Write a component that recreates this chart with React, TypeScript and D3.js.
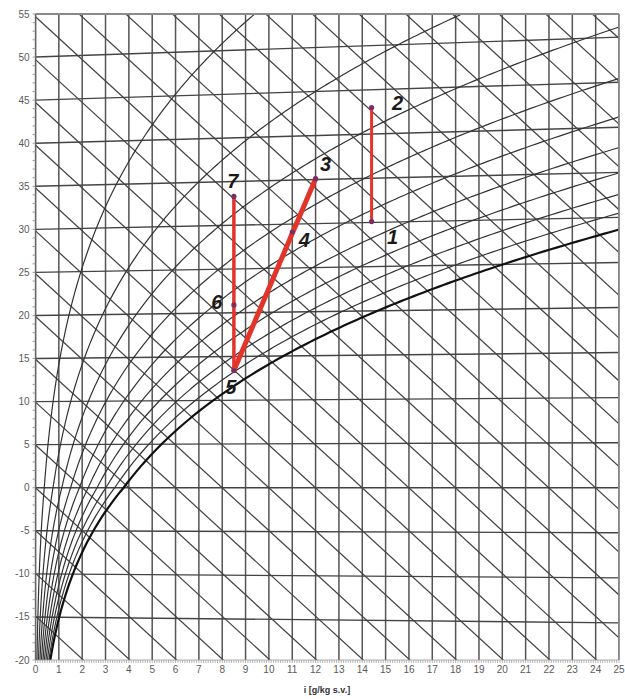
import React from "react";
import * as d3 from "d3";

// Mollier (h-x) diagram for moist air at 101.325 kPa
const WIDTH = 625;
const HEIGHT = 699;

// axis ticks
const xTickValues = [0, 1, 2, 3, 4, 5, 6, 7, 8, 9, 10, 11, 12, 13, 14, 15, 16, 17, 18, 19, 20, 21, 22, 23, 24, 25];
const tTickValues = [-20, -15, -10, -5, 0, 5, 10, 15, 20, 25, 30, 35, 40, 45, 50, 55];

// chart families
const isotherms = [-15, -10, -5, 0, 5, 10, 15, 20, 25, 30, 35, 40, 45, 50];
const relHumidity = [10, 20, 30, 40, 50, 60, 70, 80, 90, 100];
const enthalpies = [
  -20, -15, -10, -5, 0, 5, 10, 15, 20, 25, 30, 35, 40, 45, 50, 55, 60, 65, 70, 75, 80,
  85, 90, 95, 100, 105, 110, 115, 120,
];

// process states: humidity ratio (g/kg) and temperature (°C)
const pointLabels = ["1", "2", "3", "4", "5", "6", "7"];
const pointX = [14.4, 14.4, 12.0, 11.0, 8.5, 8.5, 8.5];
const pointT = [30.1, 43.0, 35.1, 29.1, 13.4, 20.9, 33.3];

// process segments (from -> to)
const segFrom = ["1", "7", "5"];
const segTo = ["2", "5", "3"];

const P_ATM = 101325;

function satPressure(t: number): number {
  return t >= 0
    ? 611.2 * Math.exp((17.62 * t) / (243.12 + t))
    : 611.2 * Math.exp((22.46 * t) / (272.62 + t));
}

function humidityRatio(t: number, phi: number): number {
  const pv = phi * satPressure(t);
  return (622 * pv) / (P_ATM - pv);
}

// vertical chart coordinate of a state (oblique Mollier frame)
function chartY(t: number, x: number): number {
  return t * (1 + (0.00186 * x) / 1.006);
}

function enthalpyY(h: number, x: number): number {
  return (h - 2.501 * x) / 1.006;
}

export default function App() {
  const left = 35.5;
  const right = 619;
  const top = 14;
  const bottom = 660;

  const xScale = d3.scaleLinear().domain([0, 25]).range([left, right]);
  const yScale = d3.scaleLinear().domain([-20, 55]).range([bottom, top]);

  const line = d3
    .line<[number, number]>()
    .x((d) => xScale(d[0]))
    .y((d) => yScale(d[1]));

  const tSamples = d3.range(-25, 72, 0.2);

  const rhPaths = relHumidity.map((rh) => {
    const pts: [number, number][] = [];
    for (const t of tSamples) {
      const x = humidityRatio(t, rh / 100);
      const y = chartY(t, x);
      if (x > 32 || y > 62) break;
      pts.push([x, y]);
    }
    return { rh, d: line(pts) || "" };
  });

  const isoPaths = isotherms.map((t) => {
    const pts: [number, number][] = [0, 25].map((x) => [x, chartY(t, x)]);
    return { t, d: line(pts) || "" };
  });

  const hPaths = enthalpies.map((h) => {
    const pts: [number, number][] = [0, 25].map((x) => [x, enthalpyY(h, x)]);
    return { h, d: line(pts) || "" };
  });

  const pos = (label: string) => {
    const i = pointLabels.indexOf(label);
    return [xScale(pointX[i]), yScale(chartY(pointT[i], pointX[i]))];
  };

  const labelOffset: Record<string, [number, number]> = {
    "1": [21, 15],
    "2": [26, -4],
    "3": [10, -15],
    "4": [12, 8],
    "5": [-3, 16],
    "6": [-17, -3],
    "7": [-1, -15],
  };
  const segWidth = [3, 3.5, 5];

  const minorX = d3.range(0, 25.001, 0.1);
  const minorY = d3.range(-20, 55.001, 1);

  const gridColor = "#444";
  const font = "'Liberation Sans', Arial, sans-serif";

  return (
    <svg
      width={WIDTH}
      height={HEIGHT}
      style={{ position: "absolute", left: 0, top: 0, background: "#fff" }}
      fontFamily={font}
    >
      <defs>
        <clipPath id="plot-clip">
          <rect x={left} y={top} width={right - left} height={bottom - top} />
        </clipPath>
      </defs>
      <rect x={0} y={0} width={WIDTH} height={HEIGHT} fill="#fff" />

      <g clipPath="url(#plot-clip)" fill="none">
        {xTickValues.map((v) => (
          <line
            key={"v" + v}
            x1={xScale(v)}
            x2={xScale(v)}
            y1={top}
            y2={bottom}
            stroke="#555"
            strokeWidth={1.5}
          />
        ))}
        {isoPaths.map((p) => (
          <path key={"t" + p.t} d={p.d} stroke={gridColor} strokeWidth={1.4} />
        ))}
        {hPaths.map((p) => (
          <path key={"h" + p.h} d={p.d} stroke={gridColor} strokeWidth={1.25} />
        ))}
        {rhPaths.map((p) => (
          <path
            key={"rh" + p.rh}
            d={p.d}
            stroke={p.rh === 100 ? "#111" : "#333"}
            strokeWidth={p.rh === 100 ? 2.2 : 1.2}
          />
        ))}
      </g>

      {/* frame */}
      <line x1={left} x2={right} y1={top} y2={top} stroke="#8a8a8a" strokeWidth={1.8} />
      <line x1={right} x2={right} y1={top} y2={bottom} stroke="#8a8a8a" strokeWidth={1.8} />
      <line x1={left} x2={left} y1={top} y2={bottom} stroke="#666" strokeWidth={1.4} />
      <line x1={left} x2={right} y1={bottom} y2={bottom} stroke="#999" strokeWidth={0.8} />

      {/* minor ticks */}
      {minorY.map((v) => (
        <line
          key={"my" + v}
          x1={left - 3}
          x2={left}
          y1={yScale(v)}
          y2={yScale(v)}
          stroke="#888"
          strokeWidth={0.8}
        />
      ))}
      {minorX.map((v, i) => (
        <line
          key={"mx" + i}
          x1={xScale(v)}
          x2={xScale(v)}
          y1={bottom}
          y2={bottom + 3}
          stroke="#999"
          strokeWidth={0.7}
        />
      ))}

      {/* tick labels */}
      {tTickValues.map((v) => (
        <text
          key={"yl" + v}
          x={left - 6}
          y={yScale(v)}
          dy="0.35em"
          textAnchor="end"
          fontSize={10}
          fill="#5a5a5a"
        >
          {v}
        </text>
      ))}
      {xTickValues.map((v) => (
        <text
          key={"xl" + v}
          x={xScale(v)}
          y={bottom + 13}
          textAnchor="middle"
          fontSize={10}
          fill="#5a5a5a"
        >
          {v}
        </text>
      ))}
      <text x={327} y={693} textAnchor="middle" fontSize={9} fontWeight="bold" fill="#333">
        i [g/kg s.v.]
      </text>

      {/* process lines */}
      {segFrom.map((f, i) => {
        const a = pos(f);
        const b = pos(segTo[i]);
        return (
          <line
            key={"seg" + i}
            x1={a[0]}
            y1={a[1]}
            x2={b[0]}
            y2={b[1]}
            stroke="#e3342a"
            strokeWidth={segWidth[i]}
            strokeLinecap="round"
          />
        );
      })}
      {pointLabels.map((l) => {
        const [px, py] = pos(l);
        const [dx, dy] = labelOffset[l];
        return (
          <g key={"p" + l}>
            <circle cx={px} cy={py} r={2.6} fill="#7a2e66" />
            <text
              x={px + dx}
              y={py + dy}
              dy="0.35em"
              textAnchor="middle"
              fontSize={20}
              fontWeight="bold"
              fontStyle="italic"
              fill="#1a1a1a"
            >
              {l}
            </text>
          </g>
        );
      })}
    </svg>
  );
}
